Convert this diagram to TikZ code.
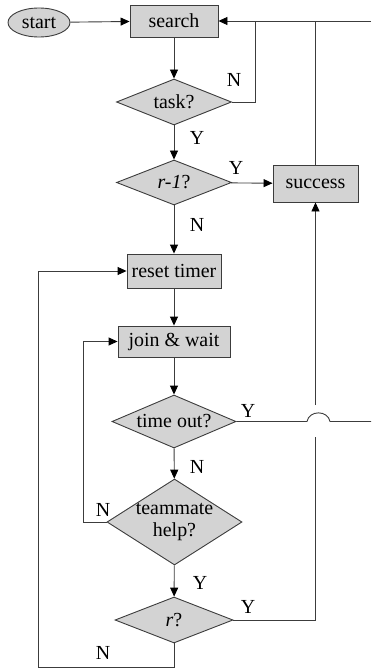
\documentclass[tikz,border=0pt]{standalone}
\usepackage{fontspec}
\setmainfont{Liberation Serif}
\usetikzlibrary{shapes.geometric,arrows.meta}
\definecolor{fillg}{RGB}{211,211,211}
\definecolor{lineg}{RGB}{60,60,60}
\begin{document}
\begin{tikzpicture}[x=1bp,y=-1bp,
  font=\rmfamily\fontsize{20}{23}\selectfont,
  ln/.style={line width=0.9bp, draw=lineg},
  arr/.style={ln, -{Triangle[length=9bp,width=8bp,color=black]}},
  boxnode/.style={ln, fill=fillg, rectangle, inner sep=0pt},
  decnode/.style={ln, fill=fillg, diamond, inner sep=0pt},
  lab/.style={inner sep=0pt}]
\useasboundingbox (0,0) rectangle (371,670);
% nodes
\node[ln, fill=fillg, ellipse, inner sep=0pt, minimum width=62bp, minimum height=29bp] (start) at (39,22.5) {start};
\node[boxnode, minimum width=88bp, minimum height=32bp] (search) at (174,21) {search};
\node[decnode, minimum width=115bp, minimum height=46bp] (task) at (174,102) {\makebox[0pt]{task?}};
\node[decnode, minimum width=115bp, minimum height=45bp] (rone) at (174,182.5) {\makebox[0pt]{\textit{r-1}?}};
\node[boxnode, minimum width=85bp, minimum height=37bp] (success) at (315.5,183.5) {success};
\node[boxnode, minimum width=94bp, minimum height=34bp] (reset) at (174,271) {reset timer};
\node[boxnode, minimum width=112bp, minimum height=31bp] (join) at (174,341.5) {join \& wait};
\node[decnode, minimum width=124bp, minimum height=53bp] (tout) at (174,421.5) {\makebox[0pt]{time out?}};
\node[decnode, minimum width=135bp, minimum height=86bp, align=center] (team) at (174.5,522) {\makebox[0pt]{teammate}\\\makebox[0pt]{help?}};
\node[decnode, minimum width=118bp, minimum height=46bp] (rq) at (174,620) {\makebox[0pt]{\textit{r}?}};
% coordinates
\coordinate (rightTop) at (371,21);
\coordinate (taskUp) at (255,21);
\coordinate (succUp) at (315.5,21);
\coordinate (hopA) at (307,421.5);
\coordinate (hopB) at (330,421.5);
\coordinate (rightMid) at (371,421.5);
\coordinate (vLow) at (315.5,437);
\coordinate (vHigh) at (315.5,405);
\coordinate (rCorner) at (315.5,620);
\coordinate (teamLeft) at (83,522);
\coordinate (rDown) at (174,667);
\coordinate (farLeft) at (38,667);
% connectors
\draw[arr] (start) -- (search);
\draw[arr] (rightTop) -- (search.east);
\draw[ln] (task.east) -| (taskUp);
\draw[ln] (success.north) -- (succUp);
\draw[arr] (search) -- (task);
\draw[arr] (task) -- (rone);
\draw[arr] (rone) -- (success);
\draw[arr] (rone) -- (reset);
\draw[arr] (reset) -- (join);
\draw[arr] (join) -- (tout);
\draw[ln] (tout.east) -- (hopA) .. controls (309,410) and (328,410) .. (hopB) -- (rightMid);
\draw[arr] (tout) -- (team);
\draw[arr] (team.west) -- (teamLeft) |- (join.west);
\draw[arr] (team) -- (rq);
\draw[ln] (rq.east) -- (rCorner) -- (vLow);
\draw[arr] (vHigh) -- (success.south);
\draw[arr] (rq.south) -- (rDown) -- (farLeft) |- (reset.west);
% labels
\node[lab] (l1) at (234,80) {N};
\node[lab] (l2) at (197,138) {Y};
\node[lab] (l3) at (236,168) {Y};
\node[lab] (l4) at (197,225) {N};
\node[lab] (l5) at (248,411) {Y};
\node[lab] (l6) at (197,467) {N};
\node[lab] (l7) at (103,510) {N};
\node[lab] (l8) at (200,583) {Y};
\node[lab] (l9) at (248,607) {Y};
\node[lab] (l10) at (103,653) {N};
\end{tikzpicture}
\end{document}
